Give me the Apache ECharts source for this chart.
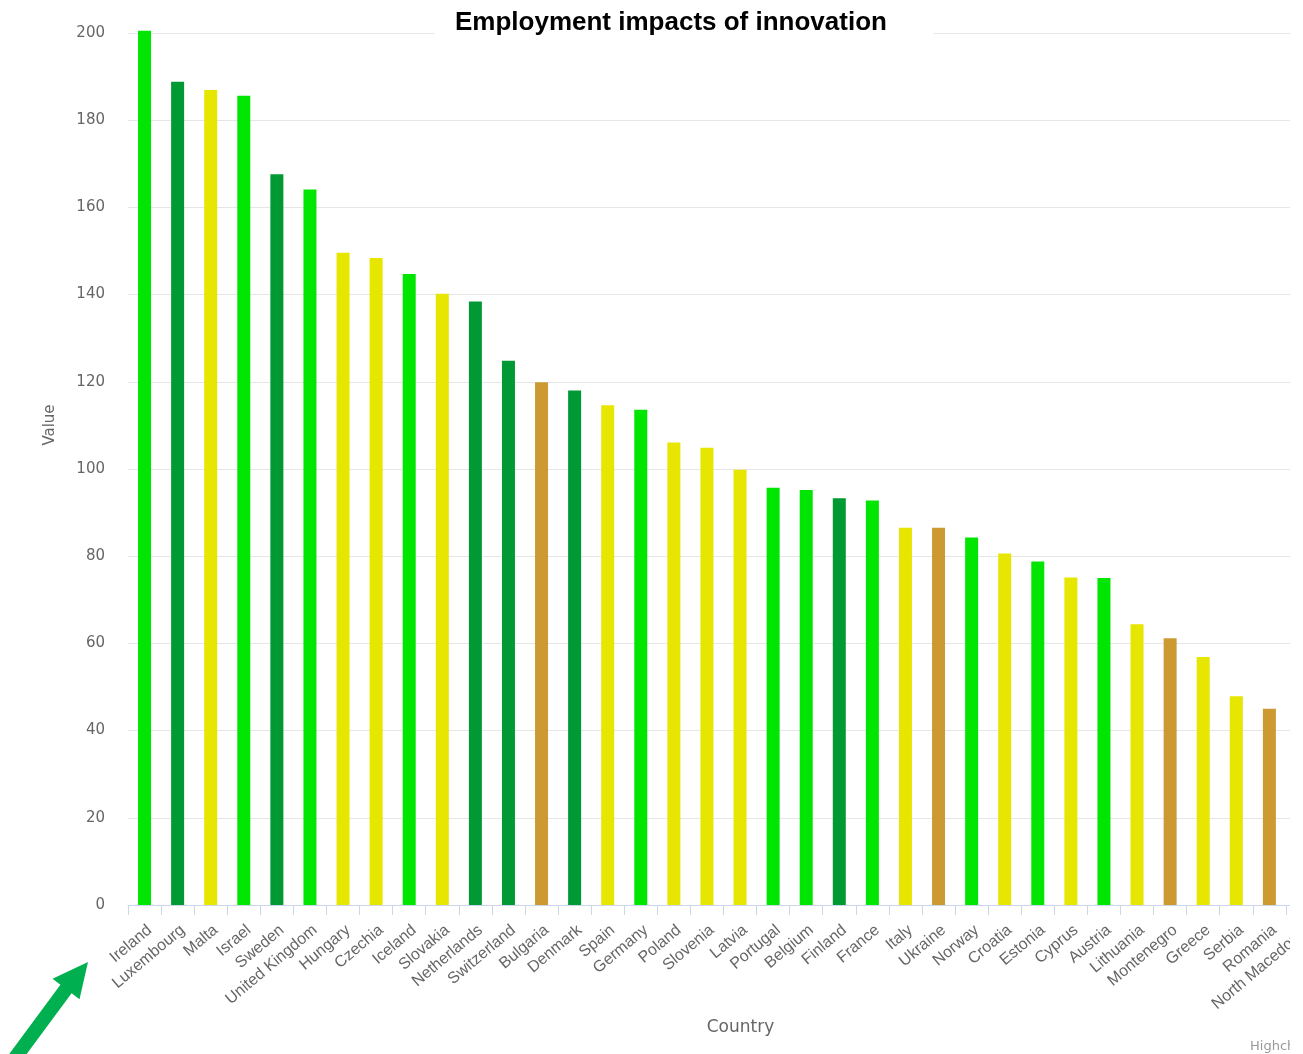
<!DOCTYPE html>
<html>
<head>
<meta charset="utf-8">
<title>Employment impacts of innovation</title>
<script src="https://cdn.jsdelivr.net/npm/echarts@6/dist/echarts.min.js"></script>
<style>
  html, body { margin: 0; padding: 0; background: #fff; }
  #frame { width: 1290px; height: 1054px; overflow: hidden; position: relative; }
  #chart { width: 1352px; height: 1054px; }
</style>
</head>
<body>
<div id="frame"><div id="chart"></div></div>
<script>
// Countries in ranked order
const countries = [
  'Ireland', 'Luxembourg', 'Malta', 'Israel', 'Sweden', 'United Kingdom',
  'Hungary', 'Czechia', 'Iceland', 'Slovakia', 'Netherlands', 'Switzerland',
  'Bulgaria', 'Denmark', 'Spain', 'Germany', 'Poland', 'Slovenia',
  'Latvia', 'Portugal', 'Belgium', 'Finland', 'France', 'Italy',
  'Ukraine', 'Norway', 'Croatia', 'Estonia', 'Cyprus', 'Austria',
  'Lithuania', 'Montenegro', 'Greece', 'Serbia', 'Romania', 'North Macedonia'
];

// Indicator value per country
const values = [
  200.5, 188.8, 186.9, 185.6, 167.6, 164.1,
  149.6, 148.4, 144.7, 140.2, 138.4, 124.8,
  119.9, 118.0, 114.6, 113.6, 106.1, 104.9,
  99.8, 95.7, 95.2, 93.3, 92.8, 86.5,
  86.5, 84.3, 80.6, 78.8, 75.1, 75.0,
  64.4, 61.2, 56.9, 47.9, 45.0, 38.0
];

// Performance group of each country
const groups = [
  'strong', 'leader', 'moderate', 'strong', 'leader', 'strong',
  'moderate', 'moderate', 'strong', 'moderate', 'leader', 'leader',
  'emerging', 'leader', 'moderate', 'strong', 'moderate', 'moderate',
  'moderate', 'strong', 'strong', 'leader', 'strong', 'moderate',
  'emerging', 'strong', 'moderate', 'strong', 'moderate', 'strong',
  'moderate', 'emerging', 'moderate', 'moderate', 'emerging', 'emerging'
];

const groupColors = {
  leader: '#009933',
  strong: '#00e600',
  moderate: '#e6e600',
  emerging: '#cc9933'
};

const yTicks = { min: 0, max: 200, interval: 20 };

const labelFont = 'DejaVu Sans, Verdana, sans-serif';
const categoryFont = 'Liberation Sans, Arial, sans-serif';

const chart = echarts.init(document.getElementById('chart'), null, { renderer: 'canvas' });

chart.setOption({
  animation: false,
  backgroundColor: '#ffffff',
  title: {
    text: 'Employment impacts of innovation',
    left: 434,
    top: 3,
    padding: [7, 47, 6, 21],
    backgroundColor: '#ffffff',
    textStyle: {
      fontFamily: 'Liberation Sans, Arial, sans-serif',
      fontWeight: 'bold',
      fontSize: 26,
      color: '#000000'
    }
  },
  grid: { left: 128, right: 33, top: 33, bottom: 149, containLabel: false },
  xAxis: {
    type: 'category',
    data: countries,
    name: 'Country',
    nameLocation: 'middle',
    nameGap: 109,
    nameTextStyle: {
      fontFamily: labelFont, fontSize: 17, color: '#666666',
      padding: [0, 0, 0, 34]
    },
    axisLine: { lineStyle: { color: '#ccd6eb', width: 1 } },
    axisTick: { show: true, length: 10, lineStyle: { color: '#ccd6eb' } },
    axisLabel: {
      rotate: 40,
      interval: 0,
      margin: 17,
      verticalAlign: 'top',
      fontFamily: categoryFont,
      fontSize: 16,
      color: '#666666'
    },
    splitLine: { show: false }
  },
  yAxis: {
    type: 'value',
    min: yTicks.min,
    max: yTicks.max,
    interval: yTicks.interval,
    name: 'Value',
    nameLocation: 'middle',
    nameGap: 70,
    nameTextStyle: {
      fontFamily: labelFont, fontSize: 15, color: '#666666',
      padding: [0, 0, 0, 88]
    },
    axisLine: { show: false },
    axisTick: { show: false },
    axisLabel: {
      margin: 23,
      padding: [4, 0, 0, 0],
      fontFamily: labelFont,
      fontSize: 15,
      color: '#666666'
    },
    splitLine: { lineStyle: { color: '#e6e6e6', width: 1 } }
  },
  series: [{
    type: 'bar',
    barWidth: 13,
    clip: false,
    data: values.map((v, i) => ({
      value: v,
      itemStyle: { color: groupColors[groups[i]] }
    }))
  }],
  graphic: [
    {
      // pointer arrow in the lower-left corner
      type: 'polygon',
      shape: {
        points: [
          [9.4, 1053.8], [60.4, 984.8], [52.5, 978.7], [88, 962],
          [79.5, 999.3], [71.6, 993.2], [20.6, 1062.2]
        ]
      },
      style: { fill: '#00b050' },
      z: 100
    },
    {
      type: 'text',
      x: 1250,
      y: 1040,
      style: {
        text: 'Highcharts.com',
        font: '13px DejaVu Sans, Verdana, sans-serif',
        fill: '#999999'
      },
      z: 100
    }
  ]
});
</script>
</body>
</html>
